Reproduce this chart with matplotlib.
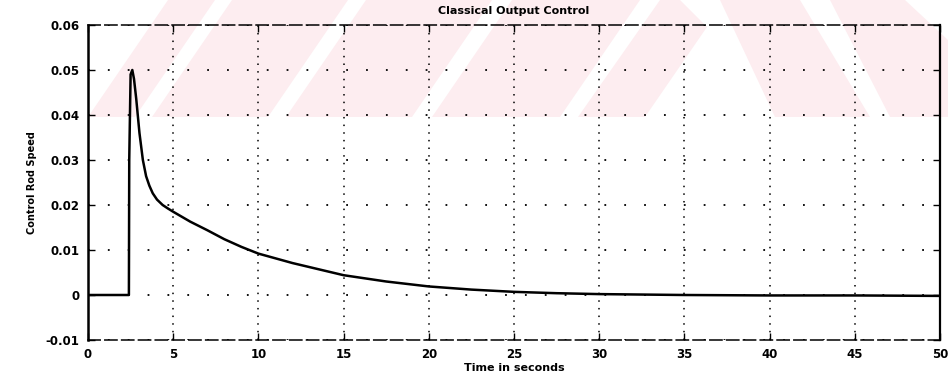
import matplotlib.pyplot as plt
from matplotlib.patches import Polygon

# Control rod speed response
time_s = [0, 2.4, 2.42, 2.5, 2.6, 2.7, 2.83, 3.02, 3.22, 3.41, 3.6, 3.8, 4.05, 4.38,
          4.7, 5, 6, 7, 8, 9, 10, 12, 15, 17.5, 20, 22.5, 25, 27.5, 30, 35, 40, 45, 50]
rod_speed = [0, 0, 0.03, 0.049, 0.050, 0.048, 0.0436, 0.036, 0.030, 0.0264, 0.0243,
             0.0226, 0.0212, 0.0200, 0.0192, 0.0185, 0.0163, 0.0144, 0.0124, 0.0107,
             0.0092, 0.0071, 0.0044, 0.0030, 0.0019, 0.0012, 0.0007, 0.0004, 0.0002,
             0.0, -0.0001, -0.0001, -0.0002]

x_ticks = [0, 5, 10, 15, 20, 25, 30, 35, 40, 45, 50]
y_ticks = [-0.01, 0, 0.01, 0.02, 0.03, 0.04, 0.05, 0.06]
y_tick_labels = ["-0.01", "0", "0.01", "0.02", "0.03", "0.04", "0.05", "0.06"]

W, H = 948, 372
fig = plt.figure(figsize=(W / 100, H / 100), dpi=100)

# faint pink watermark stripes in the top band (pixel coords -> figure fraction)
pink = "#fdedf0"
band = 117
stripes = [
    [(88, band), (135, band), (215, 0), (168, 0)],
    [(152, band), (268, band), (348, 0), (232, 0)],
    [(286, band), (412, band), (492, 0), (366, 0)],
    [(432, band), (560, band), (640, 0), (512, 0)],
    [(578, band), (645, band), (707, 27), (680, 0), (660, 0)],
    [(775, band), (870, band), (800, 0), (720, 0)],
    [(890, band), (948, band), (948, 40), (905, 0), (830, 0)],
]
for pts in stripes:
    fig.patches.append(Polygon([(x / W, 1 - y / H) for x, y in pts], closed=True,
                               facecolor=pink, edgecolor="none",
                               transform=fig.transFigure, zorder=-10))

ax = fig.add_axes([88 / W, 1 - 340 / H, (940 - 88) / W, (340 - 25) / H])
ax.patch.set_alpha(0)

ax.plot(time_s, rod_speed, color="black", linewidth=1.8)

ax.set_xlim(0, 50)
ax.set_ylim(-0.01, 0.06)
ax.set_xticks(x_ticks)
ax.set_xticklabels([str(t) for t in x_ticks])
ax.set_yticks(y_ticks)
ax.set_yticklabels(y_tick_labels)

# MATLAB-like dotted grid: sparse dots on horizontal lines, denser on vertical ones
ax.grid(True, axis="y", color="black", linestyle=(0, (1, 10)), linewidth=1.3)
ax.grid(True, axis="x", color="black", linestyle=(0, (1, 4)), linewidth=1.1)
ax.tick_params(direction="in", length=5, width=1, top=True, right=True,
               labelsize=8.5, pad=6)
for lbl in ax.get_xticklabels() + ax.get_yticklabels():
    lbl.set_fontweight("bold")

ax.spines["left"].set_linewidth(1.8)
ax.spines["right"].set_linewidth(1.6)
for side in ("top", "bottom"):
    ax.spines[side].set_linestyle((0, (8, 3)))
    ax.spines[side].set_linewidth(1.1)

ax.set_title("Classical Output Control", fontsize=8, fontweight="bold", pad=8)
ax.set_xlabel("Time in seconds", fontsize=8, fontweight="bold", labelpad=1)
ax.set_ylabel("Control Rod Speed", fontsize=7, fontweight="bold", labelpad=6)

fig.savefig("out.png", dpi=100)
